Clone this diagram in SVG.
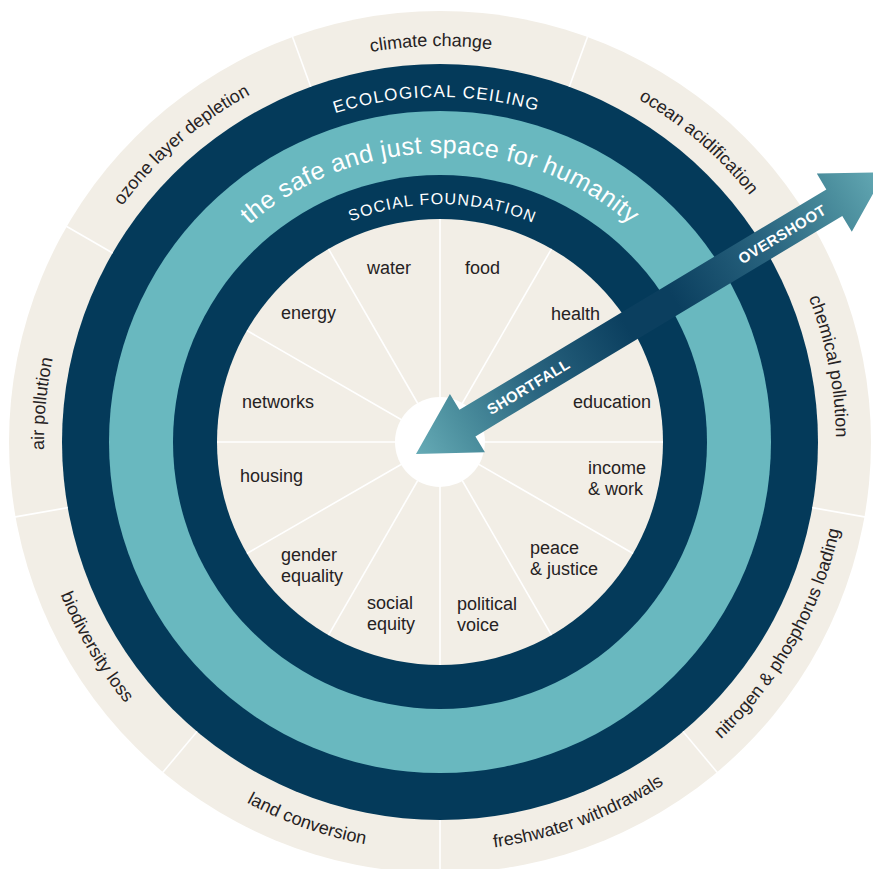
<svg xmlns="http://www.w3.org/2000/svg" xmlns:xlink="http://www.w3.org/1999/xlink" width="873" height="869" viewBox="0 0 873 869">
<style>
.lbl{font-family:"Liberation Sans",Arial,sans-serif;font-size:18px;fill:#262223}
.ring{font-family:"Liberation Sans",Arial,sans-serif;fill:#ffffff}
.arw{font-family:"Liberation Sans",Arial,sans-serif;font-size:15px;font-weight:bold;fill:#ffffff;letter-spacing:0.4px}
.div{stroke:#ffffff;stroke-width:1.6}
</style>
<defs>
<linearGradient id="arrowGrad" gradientUnits="userSpaceOnUse" x1="0" y1="0" x2="547" y2="0">
<stop offset="0" stop-color="#66abb6"/>
<stop offset="0.1" stop-color="#4c8f9e"/>
<stop offset="0.25" stop-color="#2a6580"/>
<stop offset="0.45" stop-color="#0b3f5f"/>
<stop offset="0.55" stop-color="#0b3f5f"/>
<stop offset="0.75" stop-color="#2a6580"/>
<stop offset="0.9" stop-color="#4c8f9e"/>
<stop offset="1" stop-color="#66abb6"/>
</linearGradient>
<path id="pClimate" d="M 92.7 251.8 A 396 396 0 0 1 778.4 236.3"/>
<path id="pOcean" d="M 309.8 68.0 A 396 396 0 0 1 829.0 516.2"/>
<path id="pChem" d="M 568.9 67.6 A 396 396 0 0 1 699.8 740.9"/>
<path id="pAir" d="M 210.0 764.4 A 396 396 0 0 1 275.8 81.6"/>
<path id="pOzone" d="M 51.3 517.6 A 396 396 0 0 1 568.9 67.6"/>
<path id="pNitro" d="M 443.6 851.0 A 409 409 0 0 0 792.4 234.4"/>
<path id="pFresh" d="M 179.3 757.1 A 409 409 0 0 0 843.3 510.2"/>
<path id="pLand" d="M 38.0 517.3 A 409 409 0 0 0 706.2 752.6"/>
<path id="pBio" d="M 83.1 242.5 A 409 409 0 0 0 445.7 851.0"/>
<path id="pEco" d="M 139.4 272.6 A 345 345 0 0 1 736.9 266.4"/>
<path id="pSafe" d="M 155.4 391.8 A 289 289 0 0 1 724.6 391.8"/>
<path id="pSocial" d="M 235.2 320.9 A 238 238 0 0 1 647.3 325.2"/>
</defs>

<g id="rings">
<circle cx="440" cy="442" r="431" fill="#f2eee6"/>
<circle cx="440" cy="442" r="378" fill="#043a5a"/>
<circle cx="440" cy="442" r="331" fill="#69b8bf"/>
<circle cx="440" cy="442" r="267" fill="#043a5a"/>
<circle cx="440" cy="442" r="223" fill="#f2eee6"/>
</g>

<g id="outer-dividers" class="div">
<line x1="440" y1="64" x2="440" y2="8" transform="rotate(20 440 442)"/>
<line x1="440" y1="64" x2="440" y2="8" transform="rotate(60 440 442)"/>
<line x1="440" y1="64" x2="440" y2="8" transform="rotate(100 440 442)"/>
<line x1="440" y1="64" x2="440" y2="8" transform="rotate(140 440 442)"/>
<line x1="440" y1="64" x2="440" y2="8" transform="rotate(180 440 442)"/>
<line x1="440" y1="64" x2="440" y2="8" transform="rotate(-20 440 442)"/>
<line x1="440" y1="64" x2="440" y2="8" transform="rotate(-60 440 442)"/>
<line x1="440" y1="64" x2="440" y2="8" transform="rotate(-100 440 442)"/>
<line x1="440" y1="64" x2="440" y2="8" transform="rotate(-140 440 442)"/>
</g>

<g id="inner-dividers" class="div">
<line x1="440" y1="442" x2="440" y2="219"/>
<line x1="440" y1="442" x2="440" y2="219" transform="rotate(30 440 442)"/>
<line x1="440" y1="442" x2="440" y2="219" transform="rotate(60 440 442)"/>
<line x1="440" y1="442" x2="440" y2="219" transform="rotate(90 440 442)"/>
<line x1="440" y1="442" x2="440" y2="219" transform="rotate(120 440 442)"/>
<line x1="440" y1="442" x2="440" y2="219" transform="rotate(150 440 442)"/>
<line x1="440" y1="442" x2="440" y2="219" transform="rotate(180 440 442)"/>
<line x1="440" y1="442" x2="440" y2="219" transform="rotate(210 440 442)"/>
<line x1="440" y1="442" x2="440" y2="219" transform="rotate(240 440 442)"/>
<line x1="440" y1="442" x2="440" y2="219" transform="rotate(270 440 442)"/>
<line x1="440" y1="442" x2="440" y2="219" transform="rotate(300 440 442)"/>
<line x1="440" y1="442" x2="440" y2="219" transform="rotate(330 440 442)"/>
</g>
<circle id="hub" cx="440" cy="442" r="45" fill="#ffffff"/>

<g id="ring-titles" class="ring">
<text font-size="17" letter-spacing="1.3"><textPath href="#pEco" xlink:href="#pEco" startOffset="50%" text-anchor="middle">ECOLOGICAL CEILING</textPath></text>
<text font-size="25" letter-spacing="0.4"><textPath href="#pSafe" xlink:href="#pSafe" startOffset="50%" text-anchor="middle">the safe and just space for humanity</textPath></text>
<text font-size="16" letter-spacing="1.2"><textPath href="#pSocial" xlink:href="#pSocial" startOffset="50%" text-anchor="middle">SOCIAL FOUNDATION</textPath></text>
</g>

<g id="ceiling-labels" class="lbl">
<g id="climate-change"><text><textPath href="#pClimate" xlink:href="#pClimate" startOffset="50%" text-anchor="middle">climate change</textPath></text></g>
<g id="ocean-acidification"><text><textPath href="#pOcean" xlink:href="#pOcean" startOffset="50%" text-anchor="middle">ocean acidification</textPath></text></g>
<g id="chemical-pollution"><text><textPath href="#pChem" xlink:href="#pChem" startOffset="50%" text-anchor="middle">chemical pollution</textPath></text></g>
<g id="air-pollution"><text><textPath href="#pAir" xlink:href="#pAir" startOffset="50%" text-anchor="middle">air pollution</textPath></text></g>
<g id="ozone"><text><textPath href="#pOzone" xlink:href="#pOzone" startOffset="50%" text-anchor="middle">ozone layer depletion</textPath></text></g>
<g id="nitrogen"><text><textPath href="#pNitro" xlink:href="#pNitro" startOffset="50%" text-anchor="middle">nitrogen &amp; phosphorus loading</textPath></text></g>
<g id="freshwater"><text><textPath href="#pFresh" xlink:href="#pFresh" startOffset="50%" text-anchor="middle">freshwater withdrawals</textPath></text></g>
<g id="land-conversion"><text><textPath href="#pLand" xlink:href="#pLand" startOffset="50%" text-anchor="middle">land conversion</textPath></text></g>
<g id="biodiversity"><text><textPath href="#pBio" xlink:href="#pBio" startOffset="50%" text-anchor="middle">biodiversity loss</textPath></text></g>
</g>

<g id="foundation-labels" class="lbl">
<g id="water"><text x="367" y="274">water</text></g>
<g id="food"><text x="465" y="274">food</text></g>
<g id="energy"><text x="281" y="319">energy</text></g>
<g id="health"><text x="551" y="320">health</text></g>
<g id="networks"><text x="242" y="408">networks</text></g>
<g id="education"><text x="573" y="408">education</text></g>
<g id="housing"><text x="240" y="482">housing</text></g>
<g id="income-work"><text x="588" y="474">income</text><text x="588" y="495">&amp; work</text></g>
<g id="peace-justice"><text x="530" y="554">peace</text><text x="530" y="575">&amp; justice</text></g>
<g id="political-voice"><text x="457" y="610">political</text><text x="457" y="631">voice</text></g>
<g id="social-equity"><text x="367" y="609">social</text><text x="367" y="630">equity</text></g>
<g id="gender-equality"><text x="281" y="561">gender</text><text x="281" y="582">equality</text></g>
</g>

<g id="connectors">
<g id="shortfall-overshoot-arrow" transform="translate(416 454) rotate(-31)">
<polygon points="0,0 60,-34 60,-15.5 488,-15.5 488,-34 547,0 488,34 488,15.5 60,15.5 60,34" fill="url(#arrowGrad)"/>
<text class="arw" x="131" y="5.5" text-anchor="middle">SHORTFALL</text>
<text class="arw" x="427" y="5.5" text-anchor="middle">OVERSHOOT</text>
</g>
</g>
</svg>
